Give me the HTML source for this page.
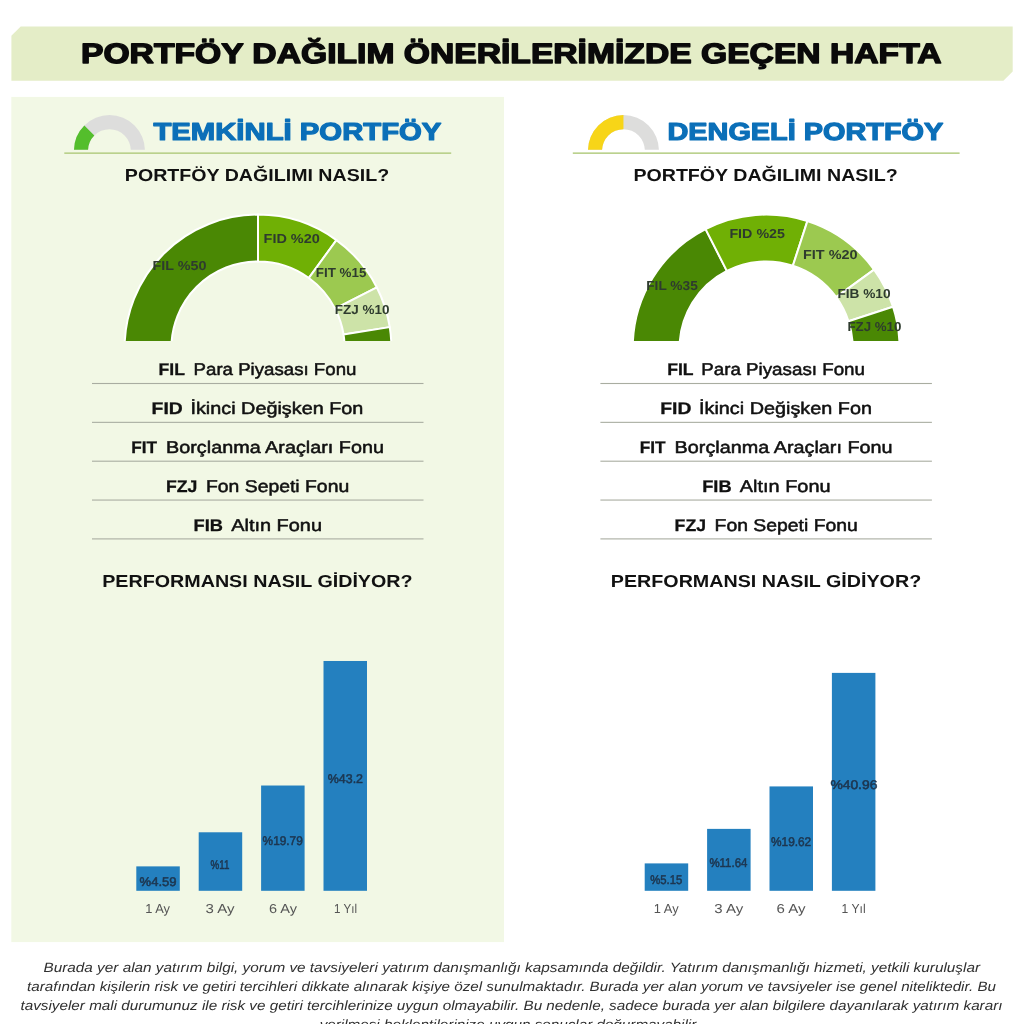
<!DOCTYPE html>
<html lang="tr">
<head>
<meta charset="utf-8">
<title>Portföy Dağılım Önerileri</title>
<style>
html,body{margin:0;padding:0;background:#fff;}
body{width:1024px;height:1024px;position:relative;overflow:hidden;font-family:"Liberation Sans", sans-serif;}
svg{position:absolute;left:0;top:0;font-family:"Liberation Sans", sans-serif;}
text{white-space:pre;text-rendering:geometricPrecision;}
</style>
</head>
<body>
<svg width="1024" height="1024" viewBox="0 0 1024 1024">
<g class="page-title">
<polygon class="banner" points="20.7,26.45 1012.7,26.45 1012.7,71.4 1003.4,80.7 11.4,80.7 11.4,35.75" fill="#e4edc7"/>
<text x="81.00" y="63.20" font-size="28.05" font-weight="700" fill="#0a0a0a" textLength="860.50" lengthAdjust="spacingAndGlyphs" stroke="#0a0a0a" stroke-width="1.4" stroke-linejoin="round">PORTFÖY DAĞILIM ÖNERİLERİMİZDE GEÇEN HAFTA</text>
</g>
<g class="panel temkinli">
<rect class="panel-bg" x="11.3" y="96.9" width="492.7" height="845.2" fill="#f2f8e5"/>
<g class="gauge"><clipPath id="gcL"><rect x="69.45" y="100" width="80" height="49.7"/></clipPath>
<g clip-path="url(#gcL)">
<path d="M73.95 150.60A35.5 35.5 0 0 1 144.95 150.60L130.85 150.60A21.4 21.4 0 0 0 88.05 150.60Z" fill="#dddddc"/>
<path d="M73.95 150.60A35.5 35.5 0 0 1 84.35 125.50L94.32 135.47A21.4 21.4 0 0 0 88.05 150.60Z" fill="#54be2c"/>
</g></g>
<text x="153.40" y="140.40" font-size="24.56" font-weight="700" fill="#0b6fb8" textLength="288.00" lengthAdjust="spacingAndGlyphs" stroke="#0b6fb8" stroke-width="1.2" stroke-linejoin="round">TEMKİNLİ PORTFÖY</text>
<rect x="64.3" y="152.4" width="386.9" height="1.5" fill="#b4cd82"/>
<text x="124.80" y="181.00" font-size="17.30" font-weight="700" fill="#111" textLength="264.40" lengthAdjust="spacingAndGlyphs">PORTFÖY DAĞILIMI NASIL?</text>
<g class="donut">
<clipPath id="dcL"><rect x="108" y="198" width="300" height="143.00"/></clipPath>
<g clip-path="url(#dcL)">
<path d="M124.60 348.00A133.4 133.4 0 0 1 258.00 214.60L258.00 261.40A86.6 86.6 0 0 0 171.40 348.00Z" fill="#4a8804" stroke="#fff" stroke-width="2" stroke-linejoin="round"/>
<path d="M258.00 214.60A133.4 133.4 0 0 1 336.41 240.08L308.90 277.94A86.6 86.6 0 0 0 258.00 261.40Z" fill="#70b005" stroke="#fff" stroke-width="2" stroke-linejoin="round"/>
<path d="M336.41 240.08A133.4 133.4 0 0 1 376.86 287.44L335.16 308.68A86.6 86.6 0 0 0 308.90 277.94Z" fill="#9cc950" stroke="#fff" stroke-width="2" stroke-linejoin="round"/>
<path d="M376.86 287.44A133.4 133.4 0 0 1 389.76 327.13L343.53 334.45A86.6 86.6 0 0 0 335.16 308.68Z" fill="#cde3a8" stroke="#fff" stroke-width="2" stroke-linejoin="round"/>
<path d="M389.76 327.13A133.4 133.4 0 0 1 391.40 348.00L344.60 348.00A86.6 86.6 0 0 0 343.53 334.45Z" fill="#4a8804" stroke="#fff" stroke-width="2" stroke-linejoin="round"/>
</g>
<text x="152.60" y="270.30" font-size="12.94" font-weight="700" fill="#2e3b2e" textLength="53.90" lengthAdjust="spacingAndGlyphs">FIL %50</text>
<text x="263.60" y="243.40" font-size="12.94" font-weight="700" fill="#2e3b2e" textLength="56.20" lengthAdjust="spacingAndGlyphs">FID %20</text>
<text x="315.80" y="276.60" font-size="12.94" font-weight="700" fill="#2e3b2e" textLength="50.60" lengthAdjust="spacingAndGlyphs">FIT %15</text>
<text x="334.80" y="313.60" font-size="12.94" font-weight="700" fill="#2e3b2e" textLength="54.60" lengthAdjust="spacingAndGlyphs">FZJ %10</text>
</g>
<g class="fund-list">
<text x="158.60" y="375.40" font-size="16.86" font-weight="700" fill="#111" textLength="26.40" lengthAdjust="spacingAndGlyphs" stroke="#111" stroke-width="0.3" stroke-linejoin="round">FIL</text>
<text x="193.60" y="375.40" font-size="17.01" font-weight="400" fill="#111" textLength="162.80" lengthAdjust="spacingAndGlyphs" stroke="#111" stroke-width="0.5" stroke-linejoin="round">Para Piyasası Fonu</text>
<rect x="92" y="382.95" width="331.5" height="1.1" fill="#a9ada1"/>
<text x="151.60" y="414.25" font-size="16.86" font-weight="700" fill="#111" textLength="31.20" lengthAdjust="spacingAndGlyphs" stroke="#111" stroke-width="0.3" stroke-linejoin="round">FID</text>
<text x="190.40" y="414.25" font-size="17.01" font-weight="400" fill="#111" textLength="173.00" lengthAdjust="spacingAndGlyphs" stroke="#111" stroke-width="0.5" stroke-linejoin="round">İkinci Değişken Fon</text>
<rect x="92" y="421.80" width="331.5" height="1.1" fill="#a9ada1"/>
<text x="131.20" y="453.10" font-size="16.86" font-weight="700" fill="#111" textLength="25.80" lengthAdjust="spacingAndGlyphs" stroke="#111" stroke-width="0.3" stroke-linejoin="round">FIT</text>
<text x="166.00" y="453.10" font-size="17.01" font-weight="400" fill="#111" textLength="218.00" lengthAdjust="spacingAndGlyphs" stroke="#111" stroke-width="0.5" stroke-linejoin="round">Borçlanma Araçları Fonu</text>
<rect x="92" y="460.65" width="331.5" height="1.1" fill="#a9ada1"/>
<text x="166.00" y="491.95" font-size="16.86" font-weight="700" fill="#111" textLength="31.40" lengthAdjust="spacingAndGlyphs" stroke="#111" stroke-width="0.3" stroke-linejoin="round">FZJ</text>
<text x="206.00" y="491.95" font-size="17.01" font-weight="400" fill="#111" textLength="143.20" lengthAdjust="spacingAndGlyphs" stroke="#111" stroke-width="0.5" stroke-linejoin="round">Fon Sepeti Fonu</text>
<rect x="92" y="499.50" width="331.5" height="1.1" fill="#a9ada1"/>
<text x="193.60" y="530.80" font-size="16.86" font-weight="700" fill="#111" textLength="29.40" lengthAdjust="spacingAndGlyphs" stroke="#111" stroke-width="0.3" stroke-linejoin="round">FIB</text>
<text x="231.20" y="530.80" font-size="17.01" font-weight="400" fill="#111" textLength="90.80" lengthAdjust="spacingAndGlyphs" stroke="#111" stroke-width="0.5" stroke-linejoin="round">Altın Fonu</text>
<rect x="92" y="538.35" width="331.5" height="1.1" fill="#a9ada1"/>
</g>
<text x="102.20" y="586.60" font-size="17.30" font-weight="700" fill="#111" textLength="310.40" lengthAdjust="spacingAndGlyphs">PERFORMANSI NASIL GİDİYOR?</text>
<g class="bars">
<rect x="136.30" y="866.38" width="43.5" height="24.42" fill="#2480bf"/>
<text x="139.60" y="885.69" font-size="12.65" font-weight="400" fill="#1d3650" textLength="37.00" lengthAdjust="spacingAndGlyphs" stroke="#1d3650" stroke-width="0.55" stroke-linejoin="round">%4.59</text>
<text x="145.20" y="913.20" font-size="12.94" font-weight="400" fill="#555555" textLength="24.80" lengthAdjust="spacingAndGlyphs">1 Ay</text>
<rect x="198.70" y="832.28" width="43.5" height="58.52" fill="#2480bf"/>
<text x="210.60" y="868.64" font-size="12.65" font-weight="400" fill="#1d3650" textLength="18.80" lengthAdjust="spacingAndGlyphs" stroke="#1d3650" stroke-width="0.55" stroke-linejoin="round">%11</text>
<text x="205.60" y="913.20" font-size="12.94" font-weight="400" fill="#555555" textLength="29.00" lengthAdjust="spacingAndGlyphs">3 Ay</text>
<rect x="261.10" y="785.52" width="43.5" height="105.28" fill="#2480bf"/>
<text x="262.60" y="845.26" font-size="12.65" font-weight="400" fill="#1d3650" textLength="40.20" lengthAdjust="spacingAndGlyphs" stroke="#1d3650" stroke-width="0.55" stroke-linejoin="round">%19.79</text>
<text x="269.00" y="913.20" font-size="12.94" font-weight="400" fill="#555555" textLength="28.00" lengthAdjust="spacingAndGlyphs">6 Ay</text>
<rect x="323.50" y="660.98" width="43.5" height="229.82" fill="#2480bf"/>
<text x="327.80" y="782.99" font-size="12.65" font-weight="400" fill="#1d3650" textLength="35.20" lengthAdjust="spacingAndGlyphs" stroke="#1d3650" stroke-width="0.55" stroke-linejoin="round">%43.2</text>
<text x="334.00" y="913.20" font-size="12.94" font-weight="400" fill="#555555" textLength="23.00" lengthAdjust="spacingAndGlyphs">1 Yıl</text>
</g>
</g>
<g class="panel dengeli">
<g class="gauge"><clipPath id="gcR"><rect x="583.45" y="100" width="80" height="49.7"/></clipPath>
<g clip-path="url(#gcR)">
<path d="M587.95 150.60A35.5 35.5 0 0 1 658.95 150.60L644.85 150.60A21.4 21.4 0 0 0 602.05 150.60Z" fill="#dddddc"/>
<path d="M587.95 150.60A35.5 35.5 0 0 1 623.45 115.10L623.45 129.20A21.4 21.4 0 0 0 602.05 150.60Z" fill="#f7d518"/>
</g></g>
<text x="667.50" y="140.40" font-size="24.56" font-weight="700" fill="#0b6fb8" textLength="275.70" lengthAdjust="spacingAndGlyphs" stroke="#0b6fb8" stroke-width="1.2" stroke-linejoin="round">DENGELİ PORTFÖY</text>
<rect x="572.8" y="152.4" width="386.8" height="1.5" fill="#b4cd82"/>
<text x="633.40" y="181.00" font-size="17.30" font-weight="700" fill="#111" textLength="264.40" lengthAdjust="spacingAndGlyphs">PORTFÖY DAĞILIMI NASIL?</text>
<g class="donut">
<clipPath id="dcR"><rect x="616.15" y="198" width="300" height="143.00"/></clipPath>
<g clip-path="url(#dcR)">
<path d="M632.75 348.00A133.4 133.4 0 0 1 705.59 229.14L726.83 270.84A86.6 86.6 0 0 0 679.55 348.00Z" fill="#4a8804" stroke="#fff" stroke-width="2" stroke-linejoin="round"/>
<path d="M705.59 229.14A133.4 133.4 0 0 1 807.37 221.13L792.91 265.64A86.6 86.6 0 0 0 726.83 270.84Z" fill="#70b005" stroke="#fff" stroke-width="2" stroke-linejoin="round"/>
<path d="M807.37 221.13A133.4 133.4 0 0 1 874.07 269.59L836.21 297.10A86.6 86.6 0 0 0 792.91 265.64Z" fill="#9cc950" stroke="#fff" stroke-width="2" stroke-linejoin="round"/>
<path d="M874.07 269.59A133.4 133.4 0 0 1 893.02 306.78L848.51 321.24A86.6 86.6 0 0 0 836.21 297.10Z" fill="#cde3a8" stroke="#fff" stroke-width="2" stroke-linejoin="round"/>
<path d="M893.02 306.78A133.4 133.4 0 0 1 899.55 348.00L852.75 348.00A86.6 86.6 0 0 0 848.51 321.24Z" fill="#4a8804" stroke="#fff" stroke-width="2" stroke-linejoin="round"/>
</g>
<text x="646.20" y="290.30" font-size="12.94" font-weight="700" fill="#2e3b2e" textLength="51.60" lengthAdjust="spacingAndGlyphs">FIL %35</text>
<text x="729.40" y="238.20" font-size="12.94" font-weight="700" fill="#2e3b2e" textLength="55.60" lengthAdjust="spacingAndGlyphs">FID %25</text>
<text x="803.00" y="258.90" font-size="12.94" font-weight="700" fill="#2e3b2e" textLength="54.60" lengthAdjust="spacingAndGlyphs">FIT %20</text>
<text x="837.40" y="298.00" font-size="12.94" font-weight="700" fill="#2e3b2e" textLength="53.20" lengthAdjust="spacingAndGlyphs">FIB %10</text>
<text x="847.40" y="330.50" font-size="12.94" font-weight="700" fill="#2e3b2e" textLength="54.00" lengthAdjust="spacingAndGlyphs">FZJ %10</text>
</g>
<g class="fund-list">
<text x="667.20" y="375.40" font-size="16.86" font-weight="700" fill="#111" textLength="26.40" lengthAdjust="spacingAndGlyphs" stroke="#111" stroke-width="0.3" stroke-linejoin="round">FIL</text>
<text x="701.20" y="375.40" font-size="17.01" font-weight="400" fill="#111" textLength="163.80" lengthAdjust="spacingAndGlyphs" stroke="#111" stroke-width="0.5" stroke-linejoin="round">Para Piyasası Fonu</text>
<rect x="600.4" y="382.95" width="331.5" height="1.1" fill="#a9ada1"/>
<text x="660.20" y="414.25" font-size="16.86" font-weight="700" fill="#111" textLength="31.20" lengthAdjust="spacingAndGlyphs" stroke="#111" stroke-width="0.3" stroke-linejoin="round">FID</text>
<text x="699.00" y="414.25" font-size="17.01" font-weight="400" fill="#111" textLength="173.00" lengthAdjust="spacingAndGlyphs" stroke="#111" stroke-width="0.5" stroke-linejoin="round">İkinci Değişken Fon</text>
<rect x="600.4" y="421.80" width="331.5" height="1.1" fill="#a9ada1"/>
<text x="639.80" y="453.10" font-size="16.86" font-weight="700" fill="#111" textLength="25.80" lengthAdjust="spacingAndGlyphs" stroke="#111" stroke-width="0.3" stroke-linejoin="round">FIT</text>
<text x="674.60" y="453.10" font-size="17.01" font-weight="400" fill="#111" textLength="218.00" lengthAdjust="spacingAndGlyphs" stroke="#111" stroke-width="0.5" stroke-linejoin="round">Borçlanma Araçları Fonu</text>
<rect x="600.4" y="460.65" width="331.5" height="1.1" fill="#a9ada1"/>
<text x="702.20" y="491.95" font-size="16.86" font-weight="700" fill="#111" textLength="29.40" lengthAdjust="spacingAndGlyphs" stroke="#111" stroke-width="0.3" stroke-linejoin="round">FIB</text>
<text x="739.80" y="491.95" font-size="17.01" font-weight="400" fill="#111" textLength="90.80" lengthAdjust="spacingAndGlyphs" stroke="#111" stroke-width="0.5" stroke-linejoin="round">Altın Fonu</text>
<rect x="600.4" y="499.50" width="331.5" height="1.1" fill="#a9ada1"/>
<text x="674.60" y="530.80" font-size="16.86" font-weight="700" fill="#111" textLength="31.40" lengthAdjust="spacingAndGlyphs" stroke="#111" stroke-width="0.3" stroke-linejoin="round">FZJ</text>
<text x="714.60" y="530.80" font-size="17.01" font-weight="400" fill="#111" textLength="143.20" lengthAdjust="spacingAndGlyphs" stroke="#111" stroke-width="0.5" stroke-linejoin="round">Fon Sepeti Fonu</text>
<rect x="600.4" y="538.35" width="331.5" height="1.1" fill="#a9ada1"/>
</g>
<text x="610.80" y="586.60" font-size="17.30" font-weight="700" fill="#111" textLength="310.40" lengthAdjust="spacingAndGlyphs">PERFORMANSI NASIL GİDİYOR?</text>
<g class="bars">
<rect x="644.70" y="863.40" width="43.5" height="27.40" fill="#2480bf"/>
<text x="650.20" y="884.20" font-size="12.65" font-weight="400" fill="#1d3650" textLength="32.00" lengthAdjust="spacingAndGlyphs" stroke="#1d3650" stroke-width="0.55" stroke-linejoin="round">%5.15</text>
<text x="653.80" y="913.20" font-size="12.94" font-weight="400" fill="#555555" textLength="24.80" lengthAdjust="spacingAndGlyphs">1 Ay</text>
<rect x="707.10" y="828.88" width="43.5" height="61.92" fill="#2480bf"/>
<text x="709.40" y="866.94" font-size="12.65" font-weight="400" fill="#1d3650" textLength="38.00" lengthAdjust="spacingAndGlyphs" stroke="#1d3650" stroke-width="0.55" stroke-linejoin="round">%11.64</text>
<text x="714.20" y="913.20" font-size="12.94" font-weight="400" fill="#555555" textLength="29.00" lengthAdjust="spacingAndGlyphs">3 Ay</text>
<rect x="769.50" y="786.42" width="43.5" height="104.38" fill="#2480bf"/>
<text x="771.00" y="845.71" font-size="12.65" font-weight="400" fill="#1d3650" textLength="40.20" lengthAdjust="spacingAndGlyphs" stroke="#1d3650" stroke-width="0.55" stroke-linejoin="round">%19.62</text>
<text x="776.60" y="913.20" font-size="12.94" font-weight="400" fill="#555555" textLength="29.00" lengthAdjust="spacingAndGlyphs">6 Ay</text>
<rect x="831.90" y="672.89" width="43.5" height="217.91" fill="#2480bf"/>
<text x="830.40" y="788.95" font-size="12.65" font-weight="400" fill="#1d3650" textLength="47.00" lengthAdjust="spacingAndGlyphs" stroke="#1d3650" stroke-width="0.55" stroke-linejoin="round">%40.96</text>
<text x="841.60" y="913.20" font-size="12.94" font-weight="400" fill="#555555" textLength="24.00" lengthAdjust="spacingAndGlyphs">1 Yıl</text>
</g>
</g>
<g class="disclaimer">
<text x="43.50" y="972.00" font-size="13.50" font-weight="400" font-style="italic" fill="#303030" textLength="936.50" lengthAdjust="spacingAndGlyphs">Burada yer alan yatırım bilgi, yorum ve tavsiyeleri yatırım danışmanlığı kapsamında değildir. Yatırım danışmanlığı hizmeti, yetkili kuruluşlar</text>
<text x="27.00" y="991.10" font-size="13.50" font-weight="400" font-style="italic" fill="#303030" textLength="969.00" lengthAdjust="spacingAndGlyphs">tarafından kişilerin risk ve getiri tercihleri dikkate alınarak kişiye özel sunulmaktadır. Burada yer alan yorum ve tavsiyeler ise genel niteliktedir. Bu</text>
<text x="20.50" y="1010.20" font-size="13.50" font-weight="400" font-style="italic" fill="#303030" textLength="982.00" lengthAdjust="spacingAndGlyphs">tavsiyeler mali durumunuz ile risk ve getiri tercihlerinize uygun olmayabilir. Bu nedenle, sadece burada yer alan bilgilere dayanılarak yatırım kararı</text>
<text x="319.70" y="1029.30" font-size="13.50" font-weight="400" font-style="italic" fill="#303030" textLength="380.30" lengthAdjust="spacingAndGlyphs">verilmesi beklentilerinize uygun sonuçlar doğurmayabilir.</text>
</g>
</svg>
</body>
</html>
